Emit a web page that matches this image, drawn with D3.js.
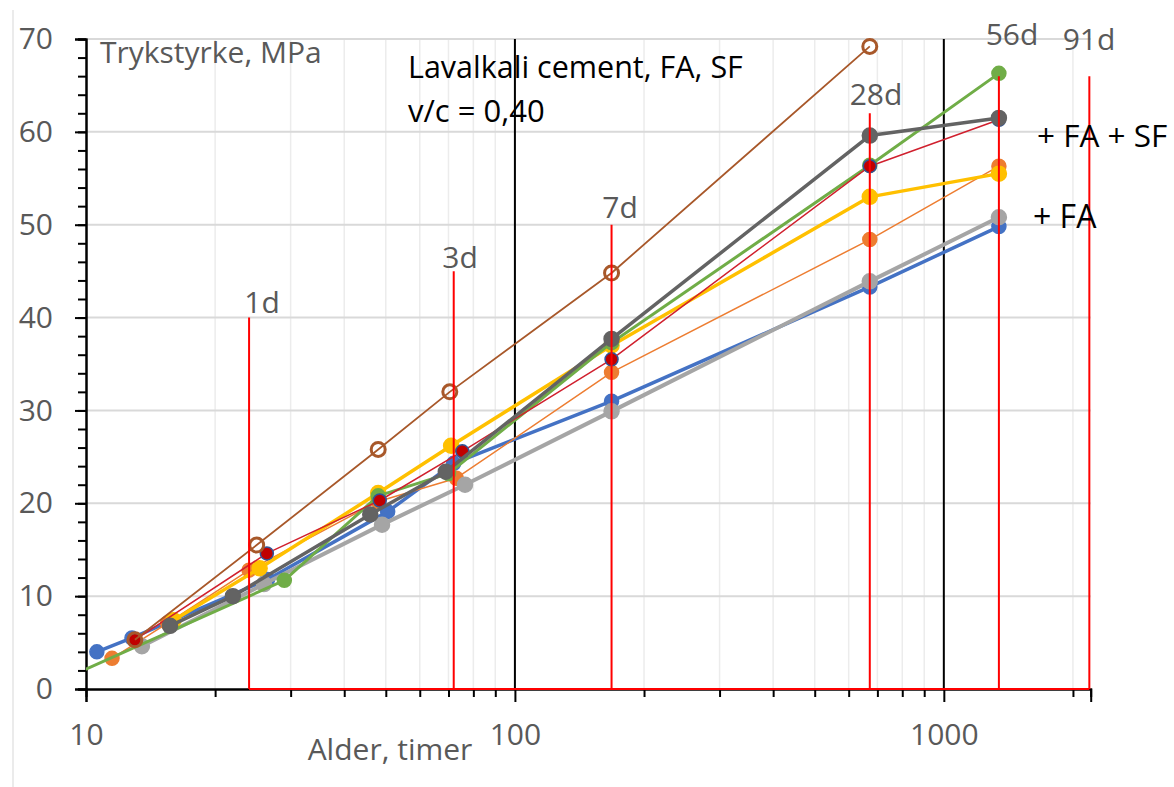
<!DOCTYPE html>
<html>
<head>
<meta charset="utf-8">
<script src="https://cdn.jsdelivr.net/npm/d3@7"></script>
<style>
  body { margin: 0; background: #fff; }
  svg { display: block; font-family: "Open Sans", "Noto Sans", sans-serif; }
</style>
</head>
<body>
<div class="chart"></div>
<script>
// data: [age in hours, strength MPa]
const blue     = [[10.6, 4.0], [12.8, 5.5], [26.5, 11.8], [50.5, 19.1], [72, 24.3], [168, 31.0], [672, 43.3], [1344, 49.8]];
const orange   = [[11.5, 3.3], [15.5, 7.1], [24, 12.8], [48, 20.2], [73, 22.7], [168, 34.1], [672, 48.4], [1344, 56.3]];
const lightGray= [[13.5, 4.6], [26, 11.3], [49, 17.7], [76.5, 22.0], [168, 29.9], [672, 43.9], [1344, 50.8]];
const gold     = [[16, 7.4], [25.4, 13.0], [48, 21.1], [71, 26.2], [168, 37.0], [672, 53.0], [1344, 55.5]];
const green    = [[9, 1.2], [29, 11.7], [48, 20.8], [70, 23.2], [168, 37.3], [672, 56.4], [1344, 66.3]];
const darkRed  = [[13, 5.3], [26.4, 14.6], [48.4, 20.3], [75.4, 25.6], [168, 35.5], [672, 56.3], [1344, 61.3]];
const darkGray = [[15.7, 6.8], [22, 10.0], [46, 18.8], [69, 23.4], [168, 37.7], [672, 59.6], [1344, 61.5]];
const brown    = [[13, 5.3], [25, 15.5], [48, 25.8], [70.5, 32.0], [168, 44.8], [672, 69.2]];

// age markers (red verticals)
const ageLabels = ['1d', '3d', '7d', '28d', '56d', '91d'];
const ageHours  = [24, 72, 168, 672, 1344, 2184];
const ageTops   = [40, 45, 50, 62, 66, 66];

const series = [
    { data: blue,      color: '#4472C4', width: 3.5, r: 7 },
    { data: orange,    color: '#ED7D31', width: 1.5, r: 7 },
    { data: lightGray, color: '#A5A5A5', width: 4, r: 7.5 },
    { data: gold,      color: '#FFC000', width: 3.5, r: 7.5 },
    { data: green,     color: '#70AD47', width: 3, r: 7 },
    { data: darkRed,   color: '#D0202E', width: 1.5, r: 6.5, fill: '#C00000', stroke: '#2F5597' },
    { data: darkGray,  color: '#636363', width: 3.5, r: 7.5 },
    { data: brown,     color: '#A8582A', width: 1.8, r: 7, fill: 'none', stroke: '#A8582A', open: true }
];

const width = 1174, height = 787;
const pLeft = 86, pRight = 1090.7, pTop = 39, pBottom = 689;

const x = d3.scaleLog().domain([10, 2200]).range([pLeft, pRight]);
const y = d3.scaleLinear().domain([0, 70]).range([pBottom, pTop]);

const svg = d3.select('.chart').append('svg')
    .attr('width', width)
    .attr('height', height)
    .attr('viewBox', [0, 0, width, height]);

svg.append('defs').append('clipPath').attr('id', 'plot')
    .append('rect')
    .attr('x', pLeft).attr('y', pTop - 10)
    .attr('width', pRight - pLeft + 10).attr('height', pBottom - pTop + 10);

// faint ruler line on the far left
svg.append('line')
    .attr('x1', 13).attr('x2', 13).attr('y1', 10).attr('y2', height)
    .attr('stroke', '#e4e4e4').attr('stroke-width', 1.5);

const allTicks = x.ticks();
const majorX = [100, 1000];
const minorX = allTicks.filter(d => d > 10 && !majorX.includes(d));

// grid
svg.append('g').selectAll('line')
    .data(minorX)
    .join('line')
    .attr('x1', d => x(d)).attr('x2', d => x(d))
    .attr('y1', pTop).attr('y2', pBottom)
    .attr('stroke', '#ececec').attr('stroke-width', 1.5);

svg.append('g').selectAll('line')
    .data(d3.range(10, 71, 10))
    .join('line')
    .attr('x1', pLeft).attr('x2', pRight)
    .attr('y1', d => y(d)).attr('y2', d => y(d))
    .attr('stroke', '#d9d9d9').attr('stroke-width', 2);

svg.append('g').selectAll('line')
    .data(majorX)
    .join('line')
    .attr('x1', d => x(d)).attr('x2', d => x(d))
    .attr('y1', pTop).attr('y2', pBottom)
    .attr('stroke', '#000').attr('stroke-width', 2);

// axes
const yMinor = svg.append('g')
    .attr('transform', `translate(${pLeft},0)`)
    .call(d3.axisLeft(y).tickValues(d3.range(0, 71, 2)).tickSize(8).tickFormat(''));
const yMajor = svg.append('g')
    .attr('transform', `translate(${pLeft},0)`)
    .call(d3.axisLeft(y).tickValues(d3.range(0, 71, 10)).tickSize(11).tickPadding(22));

const xMinor = svg.append('g')
    .attr('transform', `translate(0,${pBottom})`)
    .call(d3.axisBottom(x).tickValues(minorX).tickSize(8).tickFormat(''));
const xMajor = svg.append('g')
    .attr('transform', `translate(0,${pBottom})`)
    .call(d3.axisBottom(x).tickValues([10, 100, 1000]).tickSize(13).tickPadding(22).tickFormat(d3.format('d')));

[yMinor, yMajor, xMinor, xMajor].forEach(g => {
    g.selectAll('.domain').attr('stroke', '#000').attr('stroke-width', 2);
    g.selectAll('.tick line').attr('stroke', '#000').attr('stroke-width', 2);
    g.selectAll('.tick text')
        .attr('fill', '#595959')
        .style('font-size', '30px')
        .style('font-family', '"Open Sans", sans-serif');
});

// series lines + markers
const line = d3.line().x(d => x(d[0])).y(d => y(d[1]));
const plot = svg.append('g').attr('clip-path', 'url(#plot)');

series.forEach(s => {
    plot.append('path')
        .datum(s.data)
        .attr('d', line)
        .attr('fill', 'none')
        .attr('stroke', s.color)
        .attr('stroke-width', s.width)
        .attr('stroke-linejoin', 'round');

    plot.append('g').selectAll('circle')
        .data(s.data)
        .join('circle')
        .attr('cx', d => x(d[0]))
        .attr('cy', d => y(d[1]))
        .attr('r', s.r)
        .attr('fill', s.fill || s.color)
        .attr('stroke', s.stroke || s.color)
        .attr('stroke-width', s.open ? 3 : 1.5);
});

// red age lines, drawn on top
svg.append('line')
    .attr('x1', x(ageHours[0])).attr('x2', x(ageHours[ageHours.length - 1]))
    .attr('y1', pBottom).attr('y2', pBottom)
    .attr('stroke', '#FF0000').attr('stroke-width', 2);

svg.append('g').selectAll('line')
    .data(ageHours)
    .join('line')
    .attr('x1', d => x(d)).attr('x2', d => x(d))
    .attr('y1', pBottom).attr('y2', (d, i) => y(ageTops[i]))
    .attr('stroke', '#FF0000').attr('stroke-width', 2);

// age labels
const labelPos = [[262, 313], [460, 268], [620, 218], [876, 105], [1012, 45], [1089, 50]];
svg.append('g').selectAll('text')
    .data(ageLabels)
    .join('text')
    .attr('x', (d, i) => labelPos[i][0])
    .attr('y', (d, i) => labelPos[i][1])
    .attr('text-anchor', 'middle')
    .attr('fill', '#595959')
    .style('font-size', '30px')
    .text(d => d);

// titles and notes
svg.append('text')
    .attr('x', 100).attr('y', 63)
    .attr('fill', '#595959')
    .style('font-size', '30px')
    .text('Trykstyrke, MPa');

svg.append('text')
    .attr('x', 390).attr('y', 760)
    .attr('text-anchor', 'middle')
    .attr('fill', '#595959')
    .style('font-size', '30px')
    .text('Alder, timer');

svg.append('text')
    .attr('x', 408).attr('y', 78)
    .attr('fill', '#000')
    .style('font-size', '30.5px')
    .text('Lavalkali cement, FA, SF');

svg.append('text')
    .attr('x', 408).attr('y', 122)
    .attr('fill', '#000')
    .style('font-size', '31px')
    .text('v/c = 0,40');

svg.append('text')
    .attr('x', 1037).attr('y', 147)
    .attr('fill', '#000')
    .style('font-size', '31.5px')
    .text('+ FA + SF');

svg.append('text')
    .attr('x', 1033).attr('y', 228)
    .attr('fill', '#000')
    .style('font-size', '32px')
    .text('+ FA');
</script>
</body>
</html>
